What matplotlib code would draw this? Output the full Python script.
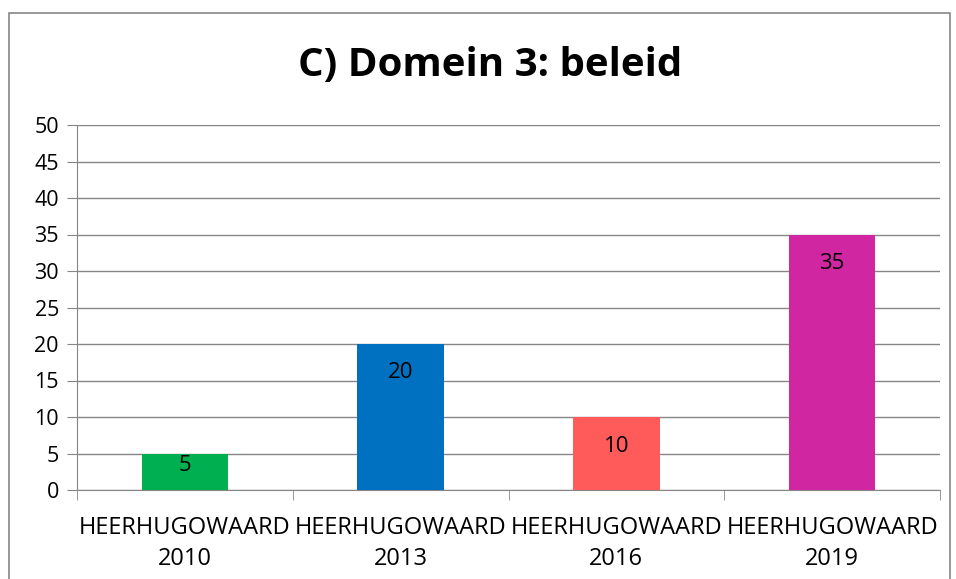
import matplotlib.pyplot as plt
from matplotlib.patches import Rectangle

categories = ['HEERHUGOWAARD\n2010', 'HEERHUGOWAARD\n2013',
              'HEERHUGOWAARD\n2016', 'HEERHUGOWAARD\n2019']
values = [5, 20, 10, 35]
colors = ['#00B050', '#0070C0', '#FF5B5B', '#D026A2']
yticks = list(range(0, 51, 5))

plt.rcParams['font.family'] = ['Open Sans', 'DejaVu Sans']

fig = plt.figure(figsize=(9.56, 5.79), dpi=100)
ax_h = 490 - 125
ax = fig.add_axes([77 / 956, 1 - 490 / 579, (940 - 77) / 956, ax_h / 579])

x = list(range(len(values)))
bars = ax.bar(x, values, width=0.4, color=colors, zorder=3)
px_per_unit = ax_h / 50
for b, v in zip(bars, values):
    off_px = min(29, v * px_per_unit / 2 - 6)
    ax.text(b.get_x() + b.get_width() / 2, v - off_px / px_per_unit, str(v),
            ha='center', va='center', fontsize=16, color='black', zorder=4)

ax.set_xlim(-0.5, len(values) - 0.5)
ax.set_ylim(0, 50)
ax.set_yticks(yticks)
ax.tick_params(axis='y', labelsize=15.5, length=7, color='#868686', pad=6)
ax.yaxis.grid(True, color='#868686', linewidth=1, zorder=0)

ax.set_xticks(x)
ax.set_xticklabels(categories, fontsize=17, linespacing=1.35)
ax.tick_params(axis='x', length=0, pad=19)
ax.set_xticks([i - 0.5 for i in range(len(values) + 1)], minor=True)
ax.tick_params(axis='x', which='minor', length=7, color='#868686')

for s in ['top', 'right']:
    ax.spines[s].set_visible(False)
for s in ['left', 'bottom']:
    ax.spines[s].set_color('#868686')

fig.text(490 / 956, 1 - 66 / 579, 'C) Domein 3: beleid', ha='center', va='center',
         fontsize=29, fontweight='bold')

fig.patches.append(Rectangle((9 / 956, -0.05), (950 - 9) / 956, 1 - 13 / 579 + 0.05,
                             transform=fig.transFigure, fill=False,
                             edgecolor='#868686', linewidth=1.2))

fig.savefig('out.png', dpi=100)
